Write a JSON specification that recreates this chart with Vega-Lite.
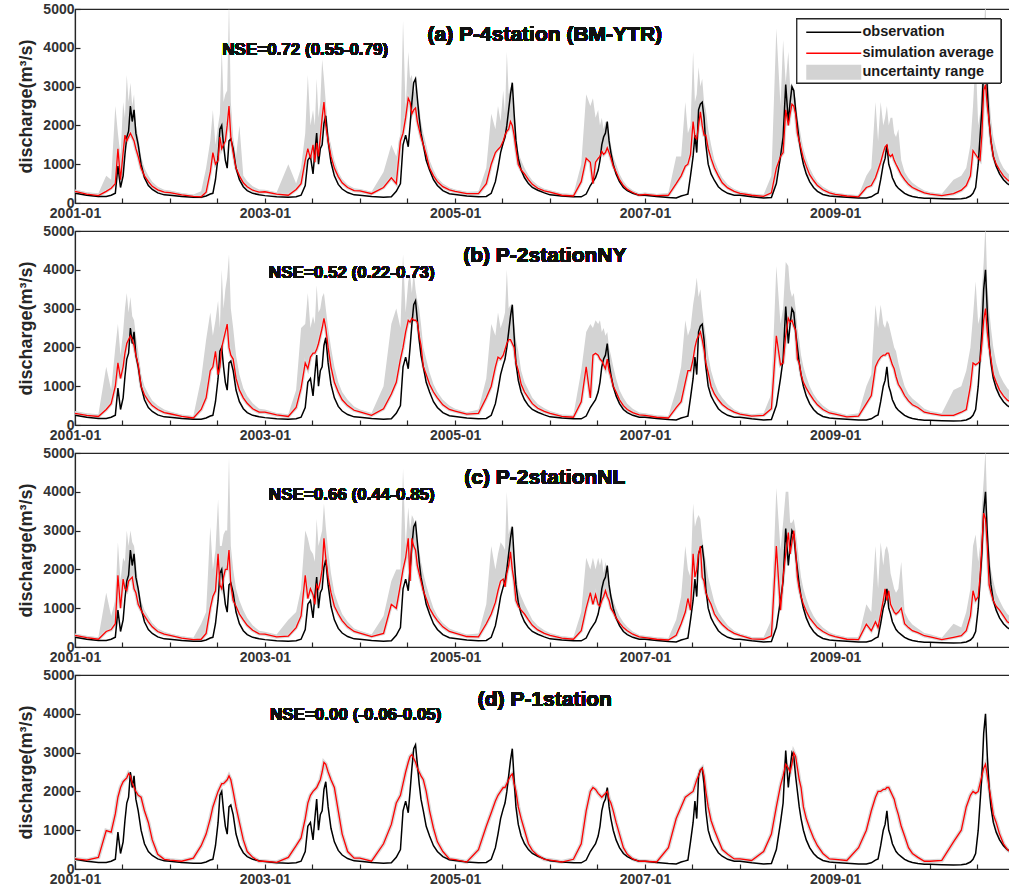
{
"$schema": "https://vega.github.io/schema/vega-lite/v6.json",
"padding": {"left": 17, "top": 1, "right": 0, "bottom": 0},
"background": "white",
"spacing": 28,
"bounds": "flush",
"data": {"values": [
{"d":"2001-01-01","o":250,"as":300,"ah":350,"bs":300,"bh":360,"cs":300,"ch":350,"ds":260},
{"d":"2001-02-15","o":200,"as":230,"ah":280,"bs":250,"bh":300,"cs":240,"ch":290,"ds":230},
{"d":"2001-04-01","o":170,"as":190,"ah":250,"bs":220,"bh":280,"cs":200,"ch":250,"ds":300},
{"d":"2001-05-01","o":170,"as":300,"ah":700,"bs":400,"bh":1500,"cs":400,"ch":1400,"ds":990},
{"d":"2001-05-20","o":200,"as":380,"ah":600,"bs":550,"bh":900,"cs":450,"ch":800,"ds":950},
{"d":"2001-06-05","o":250,"as":500,"ah":2500,"bs":1000,"bh":2000,"cs":600,"ch":1200,"ds":1420},
{"d":"2001-06-15","o":950,"as":1400,"ah":1800,"bs":1600,"bh":2600,"cs":1850,"ch":2700,"ds":1850},
{"d":"2001-06-25","o":400,"as":600,"ah":1200,"bs":1200,"bh":1800,"cs":1000,"ch":1700,"ds":2100},
{"d":"2001-07-05","o":700,"as":1300,"ah":2600,"bs":1500,"bh":2400,"cs":1750,"ch":2300,"ds":2250},
{"d":"2001-07-12","o":1250,"as":1750,"ah":2200,"bs":1850,"bh":3000,"cs":1500,"ch":2200,"ds":2300},
{"d":"2001-07-19","o":1700,"as":1600,"ah":3300,"bs":2100,"bh":3400,"cs":1450,"ch":3000,"ds":2350},
{"d":"2001-07-26","o":1850,"as":1700,"ah":2600,"bs":2200,"bh":2900,"cs":1700,"ch":2600,"ds":2460},
{"d":"2001-08-02","o":2500,"as":1800,"ah":3100,"bs":2300,"bh":3300,"cs":1750,"ch":3000,"ds":2400},
{"d":"2001-08-09","o":2100,"as":1700,"ah":2500,"bs":2200,"bh":2800,"cs":1800,"ch":2700,"ds":2200},
{"d":"2001-08-16","o":2400,"as":1600,"ah":2800,"bs":2050,"bh":2700,"cs":1500,"ch":2600,"ds":2100},
{"d":"2001-08-23","o":1800,"as":1400,"ah":2000,"bs":1800,"bh":2300,"cs":1400,"ch":2200,"ds":2000},
{"d":"2001-09-01","o":1500,"as":1200,"ah":1700,"bs":1550,"bh":1900,"cs":1100,"ch":1600,"ds":1900},
{"d":"2001-09-12","o":1000,"as":900,"ah":1200,"bs":1000,"bh":1300,"cs":950,"ch":1200,"ds":1850},
{"d":"2001-09-25","o":650,"as":700,"ah":900,"bs":780,"bh":1000,"cs":800,"ch":950,"ds":1500},
{"d":"2001-10-10","o":450,"as":550,"ah":700,"bs":620,"bh":800,"cs":650,"ch":780,"ds":1200},
{"d":"2001-10-25","o":350,"as":430,"ah":550,"bs":500,"bh":630,"cs":520,"ch":620,"ds":750},
{"d":"2001-11-15","o":260,"as":340,"ah":420,"bs":400,"bh":500,"cs":400,"ch":480,"ds":380},
{"d":"2001-12-10","o":210,"as":280,"ah":340,"bs":320,"bh":400,"cs":330,"ch":390,"ds":250},
{"d":"2002-01-01","o":200,"as":270,"ah":320,"bs":290,"bh":350,"cs":300,"ch":350,"ds":230},
{"d":"2002-02-15","o":170,"as":210,"ah":260,"bs":220,"bh":270,"cs":230,"ch":280,"ds":200},
{"d":"2002-04-01","o":150,"as":170,"ah":220,"bs":180,"bh":230,"cs":190,"ch":240,"ds":280},
{"d":"2002-05-01","o":150,"as":160,"ah":300,"bs":400,"bh":1200,"cs":200,"ch":600,"ds":600},
{"d":"2002-05-20","o":180,"as":280,"ah":900,"bs":700,"bh":2200,"cs":350,"ch":900,"ds":900},
{"d":"2002-06-05","o":230,"as":800,"ah":1600,"bs":1400,"bh":2900,"cs":1000,"ch":3100,"ds":1300},
{"d":"2002-06-15","o":250,"as":1300,"ah":2400,"bs":1500,"bh":2300,"cs":1300,"ch":2000,"ds":1600},
{"d":"2002-06-25","o":600,"as":1000,"ah":1500,"bs":1900,"bh":2700,"cs":1450,"ch":2500,"ds":1800},
{"d":"2002-07-05","o":1200,"as":1100,"ah":2000,"bs":1300,"bh":3200,"cs":2400,"ch":3800,"ds":2000},
{"d":"2002-07-12","o":1900,"as":1700,"ah":2300,"bs":1500,"bh":2500,"cs":1600,"ch":2600,"ds":2100},
{"d":"2002-07-19","o":2000,"as":1400,"ah":4000,"bs":2000,"bh":4000,"cs":1500,"ch":2600,"ds":2200},
{"d":"2002-07-26","o":1500,"as":1500,"ah":2600,"bs":2200,"bh":3000,"cs":1800,"ch":2900,"ds":2200},
{"d":"2002-08-02","o":1100,"as":1600,"ah":2800,"bs":2400,"bh":3500,"cs":2000,"ch":3000,"ds":2250},
{"d":"2002-08-09","o":900,"as":2000,"ah":2900,"bs":2600,"bh":3800,"cs":2000,"ch":3000,"ds":2300},
{"d":"2002-08-16","o":1600,"as":2500,"ah":5200,"bs":2000,"bh":4400,"cs":2500,"ch":4900,"ds":2400},
{"d":"2002-08-23","o":1650,"as":1700,"ah":2600,"bs":1800,"bh":3000,"cs":1600,"ch":2600,"ds":2300},
{"d":"2002-09-01","o":1400,"as":1300,"ah":1700,"bs":1700,"bh":2500,"cs":1200,"ch":2000,"ds":2000},
{"d":"2002-09-12","o":900,"as":900,"ah":1200,"bs":1200,"bh":1800,"cs":1050,"ch":1500,"ds":1600},
{"d":"2002-09-25","o":600,"as":700,"ah":2000,"bs":900,"bh":1300,"cs":850,"ch":1200,"ds":1200},
{"d":"2002-10-10","o":420,"as":520,"ah":700,"bs":700,"bh":950,"cs":700,"ch":950,"ds":750},
{"d":"2002-10-25","o":320,"as":420,"ah":560,"bs":560,"bh":750,"cs":560,"ch":750,"ds":450},
{"d":"2002-11-15","o":250,"as":330,"ah":430,"bs":420,"bh":560,"cs":430,"ch":560,"ds":300},
{"d":"2002-12-10","o":210,"as":280,"ah":350,"bs":330,"bh":420,"cs":340,"ch":420,"ds":200},
{"d":"2003-01-01","o":190,"as":290,"ah":340,"bs":330,"bh":400,"cs":330,"ch":390,"ds":200},
{"d":"2003-02-15","o":160,"as":230,"ah":270,"bs":260,"bh":310,"cs":260,"ch":320,"ds":170},
{"d":"2003-04-01","o":150,"as":200,"ah":1000,"bs":220,"bh":280,"cs":280,"ch":700,"ds":300},
{"d":"2003-05-01","o":160,"as":350,"ah":500,"bs":450,"bh":900,"cs":500,"ch":900,"ds":600},
{"d":"2003-05-20","o":200,"as":500,"ah":900,"bs":950,"bh":2500,"cs":800,"ch":1500,"ds":800},
{"d":"2003-06-05","o":450,"as":1100,"ah":1800,"bs":1600,"bh":2600,"cs":1850,"ch":3000,"ds":1300},
{"d":"2003-06-15","o":1100,"as":1400,"ah":3300,"bs":1450,"bh":3400,"cs":1250,"ch":2800,"ds":1700},
{"d":"2003-06-25","o":1200,"as":1150,"ah":2000,"bs":1750,"bh":2500,"cs":1500,"ch":2500,"ds":1900},
{"d":"2003-07-05","o":750,"as":1500,"ah":2400,"bs":1850,"bh":2800,"cs":1350,"ch":2400,"ds":2000},
{"d":"2003-07-12","o":1300,"as":1050,"ah":2000,"bs":1850,"bh":2600,"cs":1100,"ch":2200,"ds":2050},
{"d":"2003-07-19","o":1800,"as":1550,"ah":3200,"bs":1950,"bh":3600,"cs":1600,"ch":3300,"ds":2100},
{"d":"2003-07-26","o":1000,"as":1200,"ah":2200,"bs":2100,"bh":2900,"cs":1500,"ch":2600,"ds":2200},
{"d":"2003-08-02","o":1400,"as":1700,"ah":2600,"bs":2300,"bh":3000,"cs":1700,"ch":2800,"ds":2300},
{"d":"2003-08-09","o":1500,"as":2200,"ah":3700,"bs":2500,"bh":3300,"cs":2000,"ch":3000,"ds":2500},
{"d":"2003-08-16","o":2050,"as":2600,"ah":3200,"bs":2750,"bh":3400,"cs":2800,"ch":3700,"ds":2750},
{"d":"2003-08-23","o":2250,"as":2000,"ah":2600,"bs":2500,"bh":3000,"cs":2300,"ch":3100,"ds":2700},
{"d":"2003-09-01","o":1600,"as":1600,"ah":1800,"bs":2000,"bh":2500,"cs":1800,"ch":2500,"ds":2500},
{"d":"2003-09-12","o":1050,"as":1200,"ah":1500,"bs":1500,"bh":2000,"cs":1400,"ch":1900,"ds":2300},
{"d":"2003-09-25","o":700,"as":900,"ah":1100,"bs":1100,"bh":1500,"cs":1050,"ch":1400,"ds":2100},
{"d":"2003-10-10","o":480,"as":680,"ah":800,"bs":850,"bh":1100,"cs":850,"ch":1100,"ds":1500},
{"d":"2003-10-25","o":360,"as":520,"ah":620,"bs":650,"bh":850,"cs":680,"ch":850,"ds":900},
{"d":"2003-11-15","o":270,"as":400,"ah":470,"bs":500,"bh":650,"cs":520,"ch":650,"ds":450},
{"d":"2003-12-10","o":210,"as":320,"ah":380,"bs":380,"bh":480,"cs":400,"ch":480,"ds":280},
{"d":"2004-01-01","o":200,"as":310,"ah":360,"bs":340,"bh":400,"cs":360,"ch":420,"ds":280},
{"d":"2004-02-15","o":170,"as":240,"ah":290,"bs":250,"bh":310,"cs":270,"ch":320,"ds":200},
{"d":"2004-04-01","o":150,"as":400,"ah":800,"bs":420,"bh":1000,"cs":350,"ch":800,"ds":650},
{"d":"2004-05-01","o":160,"as":650,"ah":1500,"bs":800,"bh":2600,"cs":1100,"ch":1700,"ds":1150},
{"d":"2004-05-20","o":300,"as":500,"ah":1200,"bs":1100,"bh":3000,"cs":1000,"ch":2000,"ds":1700},
{"d":"2004-06-05","o":500,"as":1600,"ah":1800,"bs":1700,"bh":2500,"cs":1600,"ch":2000,"ds":1900},
{"d":"2004-06-15","o":1500,"as":1800,"ah":4700,"bs":2000,"bh":4400,"cs":2000,"ch":4600,"ds":2200},
{"d":"2004-06-25","o":1750,"as":2200,"ah":2400,"bs":2400,"bh":2900,"cs":2300,"ch":2600,"ds":2500},
{"d":"2004-07-05","o":1450,"as":2700,"ah":3900,"bs":2700,"bh":3700,"cs":2800,"ch":3600,"ds":2750},
{"d":"2004-07-12","o":2000,"as":2600,"ah":3200,"bs":2650,"bh":3900,"cs":1700,"ch":3000,"ds":2900},
{"d":"2004-07-19","o":2600,"as":2300,"ah":3300,"bs":2750,"bh":3400,"cs":2800,"ch":3400,"ds":2950},
{"d":"2004-07-26","o":3100,"as":2400,"ah":2800,"bs":2700,"bh":4000,"cs":2600,"ch":3300,"ds":2850},
{"d":"2004-08-02","o":3200,"as":2450,"ah":3000,"bs":2700,"bh":3500,"cs":2500,"ch":3000,"ds":2750},
{"d":"2004-08-09","o":2700,"as":2100,"ah":2600,"bs":2650,"bh":3200,"cs":2100,"ch":2700,"ds":2600},
{"d":"2004-08-16","o":2200,"as":1900,"ah":2500,"bs":2300,"bh":3000,"cs":1900,"ch":2500,"ds":2500},
{"d":"2004-08-23","o":1800,"as":1700,"ah":2100,"bs":2050,"bh":2600,"cs":1700,"ch":2200,"ds":2400},
{"d":"2004-09-01","o":1500,"as":1500,"ah":1800,"bs":1500,"bh":2000,"cs":1450,"ch":1900,"ds":2300},
{"d":"2004-09-12","o":1100,"as":1250,"ah":1500,"bs":1300,"bh":1700,"cs":1250,"ch":1600,"ds":2000},
{"d":"2004-09-25","o":850,"as":900,"ah":1100,"bs":1050,"bh":1350,"cs":1000,"ch":1300,"ds":1500},
{"d":"2004-10-10","o":600,"as":700,"ah":850,"bs":850,"bh":1050,"cs":820,"ch":1000,"ds":1050},
{"d":"2004-10-25","o":450,"as":550,"ah":650,"bs":700,"bh":850,"cs":680,"ch":800,"ds":700},
{"d":"2004-11-15","o":320,"as":420,"ah":500,"bs":520,"bh":650,"cs":520,"ch":620,"ds":450},
{"d":"2004-12-10","o":240,"as":340,"ah":400,"bs":400,"bh":500,"cs":400,"ch":480,"ds":260},
{"d":"2005-01-01","o":220,"as":300,"ah":350,"bs":360,"bh":420,"cs":360,"ch":420,"ds":240},
{"d":"2005-02-15","o":180,"as":240,"ah":290,"bs":280,"bh":330,"cs":270,"ch":320,"ds":180},
{"d":"2005-04-01","o":160,"as":240,"ah":300,"bs":300,"bh":400,"cs":260,"ch":350,"ds":500},
{"d":"2005-05-01","o":170,"as":500,"ah":900,"bs":700,"bh":1200,"cs":600,"ch":1100,"ds":1100},
{"d":"2005-05-20","o":250,"as":1000,"ah":2300,"bs":1000,"bh":2600,"cs":850,"ch":2600,"ds":1450},
{"d":"2005-06-05","o":550,"as":1300,"ah":1900,"bs":1500,"bh":2300,"cs":1150,"ch":2000,"ds":1750},
{"d":"2005-06-15","o":900,"as":1380,"ah":2500,"bs":1750,"bh":2900,"cs":1450,"ch":2400,"ds":1900},
{"d":"2005-06-25","o":1300,"as":1450,"ah":2100,"bs":1700,"bh":2500,"cs":1700,"ch":2700,"ds":2000},
{"d":"2005-07-05","o":1550,"as":1600,"ah":2900,"bs":1800,"bh":2700,"cs":1750,"ch":2600,"ds":2100},
{"d":"2005-07-12","o":1700,"as":1750,"ah":2300,"bs":1950,"bh":2900,"cs":1550,"ch":2500,"ds":2100},
{"d":"2005-07-19","o":2000,"as":1850,"ah":3900,"bs":2100,"bh":4000,"cs":1900,"ch":4000,"ds":2200},
{"d":"2005-07-26","o":2400,"as":1900,"ah":2800,"bs":2200,"bh":3000,"cs":2100,"ch":2900,"ds":2300},
{"d":"2005-08-02","o":2800,"as":2100,"ah":3000,"bs":2200,"bh":3100,"cs":2450,"ch":3100,"ds":2400},
{"d":"2005-08-09","o":3100,"as":2000,"ah":2800,"bs":2100,"bh":2900,"cs":2000,"ch":2800,"ds":2450},
{"d":"2005-08-16","o":2300,"as":1750,"ah":2400,"bs":2000,"bh":2600,"cs":1700,"ch":2400,"ds":2200},
{"d":"2005-08-23","o":1600,"as":1400,"ah":1900,"bs":1600,"bh":2200,"cs":1200,"ch":1900,"ds":2000},
{"d":"2005-09-01","o":1150,"as":1000,"ah":1300,"bs":1400,"bh":1900,"cs":1050,"ch":1500,"ds":1600},
{"d":"2005-09-12","o":850,"as":850,"ah":1100,"bs":1050,"bh":1400,"cs":950,"ch":1300,"ds":1300},
{"d":"2005-09-25","o":650,"as":750,"ah":900,"bs":850,"bh":1100,"cs":850,"ch":1100,"ds":1000},
{"d":"2005-10-10","o":500,"as":600,"ah":720,"bs":700,"bh":900,"cs":700,"ch":900,"ds":650},
{"d":"2005-10-25","o":400,"as":480,"ah":580,"bs":550,"bh":700,"cs":560,"ch":700,"ds":480},
{"d":"2005-11-15","o":330,"as":380,"ah":460,"bs":430,"bh":540,"cs":440,"ch":550,"ds":350},
{"d":"2005-12-10","o":260,"as":310,"ah":370,"bs":350,"bh":430,"cs":350,"ch":430,"ds":250},
{"d":"2006-01-01","o":210,"as":280,"ah":330,"bs":300,"bh":360,"cs":300,"ch":360,"ds":230},
{"d":"2006-02-15","o":180,"as":200,"ah":250,"bs":220,"bh":270,"cs":230,"ch":280,"ds":180},
{"d":"2006-04-01","o":160,"as":180,"ah":230,"bs":200,"bh":260,"cs":200,"ch":250,"ds":250},
{"d":"2006-05-01","o":160,"as":550,"ah":1000,"bs":600,"bh":1400,"cs":420,"ch":900,"ds":650},
{"d":"2006-05-20","o":230,"as":1150,"ah":2800,"bs":1500,"bh":2400,"cs":1000,"ch":2300,"ds":1500},
{"d":"2006-06-05","o":450,"as":1050,"ah":2500,"bs":700,"bh":2600,"cs":1400,"ch":2000,"ds":2000},
{"d":"2006-06-15","o":550,"as":500,"ah":2700,"bs":1800,"bh":2500,"cs":1100,"ch":2300,"ds":2100},
{"d":"2006-06-25","o":650,"as":1050,"ah":2200,"bs":1850,"bh":2700,"cs":1350,"ch":2000,"ds":2050},
{"d":"2006-07-05","o":850,"as":1150,"ah":2400,"bs":1800,"bh":2600,"cs":1100,"ch":2300,"ds":1950},
{"d":"2006-07-12","o":1100,"as":1200,"ah":2000,"bs":1700,"bh":2700,"cs":1050,"ch":2100,"ds":1900},
{"d":"2006-07-19","o":1500,"as":1330,"ah":2200,"bs":1650,"bh":2400,"cs":1200,"ch":2300,"ds":1850},
{"d":"2006-07-26","o":1700,"as":1250,"ah":1900,"bs":1550,"bh":2500,"cs":1300,"ch":1900,"ds":1900},
{"d":"2006-08-02","o":1800,"as":1300,"ah":2100,"bs":1450,"bh":2300,"cs":1450,"ch":2200,"ds":1950},
{"d":"2006-08-09","o":2100,"as":1420,"ah":2000,"bs":1700,"bh":2400,"cs":1300,"ch":1900,"ds":2000},
{"d":"2006-08-16","o":1600,"as":1300,"ah":1800,"bs":1400,"bh":2000,"cs":1200,"ch":1700,"ds":1800},
{"d":"2006-08-23","o":1300,"as":1160,"ah":1500,"bs":1250,"bh":1800,"cs":1000,"ch":1400,"ds":1700},
{"d":"2006-09-01","o":1000,"as":950,"ah":1200,"bs":1000,"bh":1500,"cs":900,"ch":1200,"ds":1500},
{"d":"2006-09-12","o":750,"as":800,"ah":1000,"bs":850,"bh":1200,"cs":750,"ch":1000,"ds":1200},
{"d":"2006-09-25","o":550,"as":600,"ah":750,"bs":650,"bh":900,"cs":620,"ch":800,"ds":900},
{"d":"2006-10-10","o":400,"as":450,"ah":560,"bs":500,"bh":700,"cs":500,"ch":640,"ds":550},
{"d":"2006-10-25","o":320,"as":350,"ah":430,"bs":400,"bh":550,"cs":420,"ch":520,"ds":380},
{"d":"2006-11-15","o":250,"as":270,"ah":330,"bs":320,"bh":420,"cs":330,"ch":400,"ds":260},
{"d":"2006-12-10","o":200,"as":200,"ah":250,"bs":260,"bh":320,"cs":260,"ch":310,"ds":200},
{"d":"2007-01-01","o":200,"as":220,"ah":270,"bs":250,"bh":300,"cs":240,"ch":290,"ds":200},
{"d":"2007-02-15","o":170,"as":190,"ah":230,"bs":200,"bh":250,"cs":200,"ch":250,"ds":180},
{"d":"2007-04-01","o":140,"as":200,"ah":260,"bs":180,"bh":230,"cs":180,"ch":230,"ds":550},
{"d":"2007-05-01","o":130,"as":500,"ah":1200,"bs":450,"bh":900,"cs":300,"ch":700,"ds":1300},
{"d":"2007-05-20","o":180,"as":700,"ah":1200,"bs":600,"bh":1500,"cs":600,"ch":1300,"ds":1600},
{"d":"2007-06-05","o":210,"as":950,"ah":2600,"bs":1100,"bh":2700,"cs":900,"ch":2600,"ds":1850},
{"d":"2007-06-15","o":230,"as":1000,"ah":1800,"bs":1400,"bh":2300,"cs":1250,"ch":2000,"ds":1900},
{"d":"2007-06-25","o":700,"as":1250,"ah":2000,"bs":1400,"bh":2500,"cs":950,"ch":1800,"ds":1950},
{"d":"2007-07-05","o":1200,"as":2100,"ah":3900,"bs":1700,"bh":3100,"cs":2400,"ch":3700,"ds":2000},
{"d":"2007-07-12","o":1750,"as":1700,"ah":2600,"bs":2000,"bh":3400,"cs":1800,"ch":3100,"ds":2150},
{"d":"2007-07-19","o":1300,"as":1650,"ah":2800,"bs":2200,"bh":3800,"cs":2000,"ch":3300,"ds":2300},
{"d":"2007-07-26","o":2400,"as":2000,"ah":3500,"bs":2300,"bh":3300,"cs":2400,"ch":3400,"ds":2400},
{"d":"2007-08-02","o":2550,"as":2350,"ah":3000,"bs":2400,"bh":3500,"cs":2600,"ch":3300,"ds":2550},
{"d":"2007-08-09","o":2600,"as":2000,"ah":3200,"bs":2200,"bh":3000,"cs":1800,"ch":2800,"ds":2600},
{"d":"2007-08-16","o":2200,"as":1750,"ah":2600,"bs":1950,"bh":2600,"cs":1700,"ch":2500,"ds":2400},
{"d":"2007-08-23","o":1500,"as":1750,"ah":2400,"bs":1600,"bh":2300,"cs":1400,"ch":2200,"ds":2000},
{"d":"2007-09-01","o":1000,"as":1400,"ah":1900,"bs":1350,"bh":1800,"cs":1250,"ch":1800,"ds":1600},
{"d":"2007-09-12","o":750,"as":1150,"ah":1500,"bs":1000,"bh":1400,"cs":1100,"ch":1500,"ds":1250},
{"d":"2007-09-25","o":580,"as":900,"ah":1100,"bs":800,"bh":1100,"cs":850,"ch":1150,"ds":1000},
{"d":"2007-10-10","o":420,"as":700,"ah":850,"bs":650,"bh":850,"cs":700,"ch":900,"ds":750},
{"d":"2007-10-25","o":330,"as":520,"ah":650,"bs":530,"bh":700,"cs":580,"ch":750,"ds":500},
{"d":"2007-11-15","o":250,"as":390,"ah":480,"bs":420,"bh":540,"cs":450,"ch":560,"ds":380},
{"d":"2007-12-10","o":200,"as":300,"ah":360,"bs":330,"bh":400,"cs":350,"ch":420,"ds":260},
{"d":"2008-01-01","o":200,"as":250,"ah":300,"bs":280,"bh":330,"cs":300,"ch":350,"ds":260},
{"d":"2008-02-15","o":160,"as":200,"ah":240,"bs":230,"bh":280,"cs":210,"ch":260,"ds":220},
{"d":"2008-04-01","o":130,"as":170,"ah":210,"bs":250,"bh":300,"cs":200,"ch":250,"ds":450},
{"d":"2008-05-01","o":140,"as":260,"ah":700,"bs":420,"bh":800,"cs":290,"ch":700,"ds":900},
{"d":"2008-05-20","o":500,"as":900,"ah":4500,"bs":2300,"bh":4100,"cs":2600,"ch":4100,"ds":1600},
{"d":"2008-06-05","o":1200,"as":1200,"ah":2500,"bs":1550,"bh":2600,"cs":950,"ch":2500,"ds":2150},
{"d":"2008-06-15","o":1700,"as":1300,"ah":4200,"bs":1600,"bh":3000,"cs":1800,"ch":3200,"ds":2400},
{"d":"2008-06-25","o":3050,"as":2400,"ah":3100,"bs":2300,"bh":4200,"cs":2400,"ch":4000,"ds":2700},
{"d":"2008-07-05","o":2100,"as":2000,"ah":3900,"bs":2750,"bh":4100,"cs":2950,"ch":4000,"ds":2600},
{"d":"2008-07-12","o":2600,"as":2300,"ah":3000,"bs":2650,"bh":3500,"cs":2400,"ch":3200,"ds":2500},
{"d":"2008-07-19","o":3000,"as":2550,"ah":3100,"bs":2700,"bh":3300,"cs":2700,"ch":3200,"ds":2700},
{"d":"2008-07-26","o":2900,"as":2500,"ah":2800,"bs":2550,"bh":3400,"cs":3000,"ch":3300,"ds":3000},
{"d":"2008-08-02","o":2400,"as":2300,"ah":2700,"bs":2450,"bh":3000,"cs":2500,"ch":3000,"ds":2900},
{"d":"2008-08-09","o":2000,"as":1800,"ah":2200,"bs":1700,"bh":2500,"cs":1800,"ch":2600,"ds":2600},
{"d":"2008-08-16","o":1600,"as":1600,"ah":2000,"bs":1600,"bh":2200,"cs":1500,"ch":2200,"ds":2300},
{"d":"2008-08-23","o":1300,"as":1400,"ah":1700,"bs":1300,"bh":1800,"cs":1300,"ch":1800,"ds":2100},
{"d":"2008-09-01","o":1000,"as":1150,"ah":1400,"bs":1100,"bh":1500,"cs":1100,"ch":1500,"ds":1600},
{"d":"2008-09-12","o":750,"as":950,"ah":1150,"bs":950,"bh":1250,"cs":920,"ch":1250,"ds":1300},
{"d":"2008-09-25","o":550,"as":730,"ah":900,"bs":800,"bh":1000,"cs":750,"ch":1000,"ds":1050},
{"d":"2008-10-10","o":400,"as":580,"ah":700,"bs":650,"bh":800,"cs":620,"ch":800,"ds":800},
{"d":"2008-10-25","o":300,"as":450,"ah":550,"bs":520,"bh":650,"cs":500,"ch":650,"ds":600},
{"d":"2008-11-15","o":220,"as":340,"ah":420,"bs":400,"bh":500,"cs":400,"ch":500,"ds":400},
{"d":"2008-12-10","o":180,"as":260,"ah":320,"bs":310,"bh":380,"cs":310,"ch":380,"ds":260},
{"d":"2009-01-01","o":170,"as":220,"ah":270,"bs":280,"bh":340,"cs":270,"ch":320,"ds":250},
{"d":"2009-02-15","o":150,"as":180,"ah":220,"bs":210,"bh":260,"cs":200,"ch":250,"ds":220},
{"d":"2009-04-01","o":130,"as":160,"ah":200,"bs":230,"bh":300,"cs":190,"ch":250,"ds":550},
{"d":"2009-05-01","o":130,"as":400,"ah":700,"bs":550,"bh":1000,"cs":590,"ch":1100,"ds":1000},
{"d":"2009-05-20","o":160,"as":450,"ah":900,"bs":760,"bh":1300,"cs":420,"ch":900,"ds":1500},
{"d":"2009-06-05","o":230,"as":650,"ah":2600,"bs":1500,"bh":3100,"cs":650,"ch":2600,"ds":1850},
{"d":"2009-06-15","o":260,"as":850,"ah":1600,"bs":1650,"bh":2500,"cs":500,"ch":1500,"ds":2000},
{"d":"2009-06-25","o":600,"as":1050,"ah":2600,"bs":1750,"bh":3100,"cs":850,"ch":2700,"ds":2000},
{"d":"2009-07-05","o":1000,"as":1300,"ah":2000,"bs":1800,"bh":2600,"cs":1200,"ch":2100,"ds":2050},
{"d":"2009-07-12","o":1150,"as":1450,"ah":2200,"bs":1800,"bh":2500,"cs":1500,"ch":2500,"ds":2050},
{"d":"2009-07-19","o":1500,"as":1500,"ah":2500,"bs":1850,"bh":2700,"cs":1200,"ch":2600,"ds":2100},
{"d":"2009-07-26","o":1000,"as":1250,"ah":2000,"bs":1850,"bh":2600,"cs":1450,"ch":2400,"ds":2100},
{"d":"2009-08-02","o":850,"as":1200,"ah":2200,"bs":1700,"bh":2400,"cs":1100,"ch":1900,"ds":2000},
{"d":"2009-08-09","o":650,"as":1250,"ah":2200,"bs":1550,"bh":2200,"cs":1000,"ch":1700,"ds":1900},
{"d":"2009-08-16","o":550,"as":1100,"ah":1800,"bs":1450,"bh":2000,"cs":900,"ch":1500,"ds":1800},
{"d":"2009-08-23","o":450,"as":1000,"ah":1700,"bs":1250,"bh":1900,"cs":850,"ch":1400,"ds":1600},
{"d":"2009-09-01","o":380,"as":880,"ah":1900,"bs":1050,"bh":1600,"cs":900,"ch":1500,"ds":1400},
{"d":"2009-09-12","o":320,"as":730,"ah":1100,"bs":930,"bh":1300,"cs":1000,"ch":2200,"ds":1100},
{"d":"2009-09-25","o":250,"as":600,"ah":800,"bs":760,"bh":1000,"cs":600,"ch":900,"ds":850},
{"d":"2009-10-10","o":200,"as":480,"ah":640,"bs":620,"bh":800,"cs":500,"ch":700,"ds":550},
{"d":"2009-10-25","o":170,"as":400,"ah":520,"bs":520,"bh":680,"cs":420,"ch":580,"ds":400},
{"d":"2009-11-15","o":140,"as":330,"ah":420,"bs":450,"bh":570,"cs":370,"ch":480,"ds":300},
{"d":"2009-12-10","o":120,"as":260,"ah":320,"bs":330,"bh":420,"cs":290,"ch":360,"ds":200},
{"d":"2010-01-01","o":120,"as":230,"ah":280,"bs":300,"bh":360,"cs":260,"ch":330,"ds":200},
{"d":"2010-02-15","o":110,"as":190,"ah":240,"bs":250,"bh":300,"cs":190,"ch":240,"ds":220},
{"d":"2010-04-01","o":100,"as":240,"ah":600,"bs":250,"bh":900,"cs":250,"ch":600,"ds":700},
{"d":"2010-05-01","o":110,"as":330,"ah":700,"bs":330,"bh":1000,"cs":290,"ch":500,"ds":1000},
{"d":"2010-05-20","o":130,"as":450,"ah":900,"bs":400,"bh":1400,"cs":420,"ch":900,"ds":1600},
{"d":"2010-06-05","o":180,"as":700,"ah":1500,"bs":1000,"bh":2000,"cs":800,"ch":1500,"ds":1900},
{"d":"2010-06-15","o":250,"as":1350,"ah":2500,"bs":1600,"bh":2800,"cs":1450,"ch":2600,"ds":2000},
{"d":"2010-06-25","o":400,"as":1250,"ah":3800,"bs":1550,"bh":3700,"cs":1200,"ch":2900,"ds":1950},
{"d":"2010-07-05","o":1000,"as":1150,"ah":2000,"bs":1600,"bh":2600,"cs":1300,"ch":2200,"ds":2000},
{"d":"2010-07-12","o":1700,"as":1100,"ah":2300,"bs":1650,"bh":2800,"cs":1800,"ch":2600,"ds":2200},
{"d":"2010-07-19","o":2400,"as":1760,"ah":3200,"bs":2100,"bh":3500,"cs":2600,"ch":3600,"ds":2400},
{"d":"2010-07-26","o":3500,"as":2900,"ah":4300,"bs":2700,"bh":4200,"cs":3450,"ch":4300,"ds":2600},
{"d":"2010-08-02","o":4000,"as":3050,"ah":5300,"bs":3000,"bh":5200,"cs":3300,"ch":5100,"ds":2700},
{"d":"2010-08-09","o":2900,"as":2500,"ah":3500,"bs":2400,"bh":3600,"cs":2600,"ch":3500,"ds":2400},
{"d":"2010-08-16","o":2100,"as":2100,"ah":2800,"bs":2000,"bh":3000,"cs":1600,"ch":2500,"ds":2100},
{"d":"2010-08-23","o":1600,"as":1600,"ah":2200,"bs":1700,"bh":2500,"cs":1400,"ch":2000,"ds":1800},
{"d":"2010-09-01","o":1200,"as":1200,"ah":1700,"bs":1300,"bh":2000,"cs":1190,"ch":1700,"ds":1400},
{"d":"2010-09-12","o":950,"as":1000,"ah":1400,"bs":1100,"bh":1600,"cs":1050,"ch":1400,"ds":1200},
{"d":"2010-09-25","o":750,"as":850,"ah":1100,"bs":900,"bh":1300,"cs":950,"ch":1200,"ds":900},
{"d":"2010-10-10","o":600,"as":700,"ah":900,"bs":750,"bh":1100,"cs":800,"ch":1000,"ds":650},
{"d":"2010-10-25","o":500,"as":600,"ah":780,"bs":640,"bh":950,"cs":650,"ch":850,"ds":500},
{"d":"2010-11-15","o":420,"as":500,"ah":650,"bs":560,"bh":800,"cs":560,"ch":720,"ds":400}
]},
"config": {
  "font": "Liberation Sans",
  "view": {"stroke": "#262626", "strokeWidth": 1.2},
  "axis": {"grid": false, "labelFont": "Liberation Sans", "labelFontSize": 14, "labelFontWeight": "bold", "labelColor": "#333333", "titleFont": "Liberation Sans", "titleFontSize": 18, "titleFontWeight": "bold", "titleColor": "#262626", "domainColor": "#262626", "tickColor": "#262626", "tickSize": -5, "domainWidth": 1.2, "tickWidth": 1.2},
  "axisY": {"tickCount": 5, "labelPadding": 6, "titlePadding": 7, "labelOverlap": false},
  "axisX": {"labelPadding": 8, "labelOverlap": false, "labelFlush": false}
},
"vconcat": [
{
  "width": 936, "height": 194,
  "encoding": {"x": {"field": "d", "type": "temporal", "title": null, "scale": {"type": "utc", "domain": [{"year": 2001, "month": 1, "date": 1, "utc": true}, {"year": 2010, "month": 11, "date": 8, "utc": true}]}, "axis": {"tickCount": {"interval": "month", "step": 6}, "labelExpr": "utcmonth(datum.value) == 0 && utcyear(datum.value) % 2 == 1 ? utcFormat(datum.value, '%Y-%m') : ''"}}},
  "layer": [
    {"mark": {"type": "area", "clip": true, "opacity": 1}, "encoding": {"y": {"field": "ah", "type": "quantitative", "scale": {"domain": [0, 5000]}, "title": "discharge(m³/s)", "axis": {"format": "d"}}, "y2": {"field": "as"}, "fill": {"datum": "uncertainty range", "scale": {"domain": ["uncertainty range"], "range": ["#d3d3d3"]}, "legend": {"orient": "none", "legendX": 729, "legendY": 56, "title": null, "padding": 0, "labelFont": "Liberation Sans", "labelFontSize": 14.5, "labelFontWeight": "bold", "labelColor": "#1a1a1a", "labelOffset": 44, "symbolType": "M-1,-1.5L10,-1.5L10,1.5L-1,1.5Z", "symbolSize": 100, "symbolStrokeWidth": 0, "symbolOpacity": 1, "zindex": 2}}}},
    {"mark": {"type": "line", "clip": true, "color": "#d9d9d9", "strokeWidth": 3.5}, "encoding": {"y": {"field": "as", "type": "quantitative", "title": "discharge(m³/s)"}}},
    {"mark": {"type": "line", "clip": true, "strokeWidth": 1.5}, "encoding": {"y": {"field": "o", "type": "quantitative", "title": "discharge(m³/s)"}, "stroke": {"datum": "observation", "scale": {"domain": ["observation", "simulation average"], "range": ["#000000", "#ff0000"]}, "legend": {"orient": "none", "legendX": 729, "legendY": 16, "title": null, "padding": 0, "labelFont": "Liberation Sans", "labelFontSize": 14.5, "labelFontWeight": "bold", "labelColor": "#1a1a1a", "labelOffset": 44, "symbolType": "M-1,0L10,0", "symbolSize": 100, "symbolStrokeWidth": 1.5, "symbolOpacity": 1, "rowPadding": 6, "zindex": 2}}}},
    {"mark": {"type": "line", "clip": true, "strokeWidth": 1.3}, "encoding": {"y": {"field": "as", "type": "quantitative", "title": "discharge(m³/s)"}, "stroke": {"datum": "simulation average"}}},
    {"mark": {"type": "rect", "fill": "white", "stroke": "#262626", "strokeWidth": 1}, "encoding": {"x": {"datum": {"year": 2008, "month": 8, "date": 7, "utc": true}, "type": "temporal"}, "x2": {"datum": {"year": 2010, "month": 9, "date": 30, "utc": true}}, "y": {"datum": 4742, "type": "quantitative"}, "y2": {"datum": 3093}}},
    {"mark": {"type": "text", "fontSize": 21, "fontWeight": "bold", "font": "Liberation Sans", "color": "#111111", "align": "center", "baseline": "middle"}, "encoding": {"x": {"datum": {"year": 2005, "month": 12, "date": 12, "utc": true}, "type": "temporal"}, "y": {"datum": 4330, "type": "quantitative"}, "text": {"value": "(a) P-4station (BM-YTR)"}}},
    {"mark": {"type": "text", "fontSize": 17, "fontWeight": "bold", "font": "Liberation Sans", "color": "#111111", "align": "center", "baseline": "middle"}, "encoding": {"x": {"datum": {"year": 2003, "month": 6, "date": 5, "utc": true}, "type": "temporal"}, "y": {"datum": 3943, "type": "quantitative"}, "text": {"value": "NSE=0.72 (0.55-0.79)"}}}
  ]
},
{
  "width": 936, "height": 194,
  "encoding": {"x": {"field": "d", "type": "temporal", "title": null, "scale": {"type": "utc", "domain": [{"year": 2001, "month": 1, "date": 1, "utc": true}, {"year": 2010, "month": 11, "date": 8, "utc": true}]}, "axis": {"tickCount": {"interval": "month", "step": 6}, "labelExpr": "utcmonth(datum.value) == 0 && utcyear(datum.value) % 2 == 1 ? utcFormat(datum.value, '%Y-%m') : ''"}}},
  "layer": [
    {"mark": {"type": "area", "clip": true, "color": "#d3d3d3", "opacity": 1}, "encoding": {"y": {"field": "bh", "type": "quantitative", "scale": {"domain": [0, 5000]}, "title": "discharge(m³/s)", "axis": {"format": "d"}}, "y2": {"field": "bs"}}},
    {"mark": {"type": "line", "clip": true, "color": "#d9d9d9", "strokeWidth": 3.5}, "encoding": {"y": {"field": "bs", "type": "quantitative", "title": "discharge(m³/s)"}}},
    {"mark": {"type": "line", "clip": true, "color": "#000000", "strokeWidth": 1.5}, "encoding": {"y": {"field": "o", "type": "quantitative", "title": "discharge(m³/s)"}}},
    {"mark": {"type": "line", "clip": true, "color": "#ff0000", "strokeWidth": 1.3}, "encoding": {"y": {"field": "bs", "type": "quantitative", "title": "discharge(m³/s)"}}},
    {"mark": {"type": "text", "fontSize": 21, "fontWeight": "bold", "font": "Liberation Sans", "color": "#111111", "align": "center", "baseline": "middle"}, "encoding": {"x": {"datum": {"year": 2005, "month": 12, "date": 12, "utc": true}, "type": "temporal"}, "y": {"datum": 4356, "type": "quantitative"}, "text": {"value": "(b) P-2stationNY"}}},
    {"mark": {"type": "text", "fontSize": 17, "fontWeight": "bold", "font": "Liberation Sans", "color": "#111111", "align": "center", "baseline": "middle"}, "encoding": {"x": {"datum": {"year": 2003, "month": 12, "date": 1, "utc": true}, "type": "temporal"}, "y": {"datum": 3918, "type": "quantitative"}, "text": {"value": "NSE=0.52 (0.22-0.73)"}}}
  ]
},
{
  "width": 936, "height": 194,
  "encoding": {"x": {"field": "d", "type": "temporal", "title": null, "scale": {"type": "utc", "domain": [{"year": 2001, "month": 1, "date": 1, "utc": true}, {"year": 2010, "month": 11, "date": 8, "utc": true}]}, "axis": {"tickCount": {"interval": "month", "step": 6}, "labelExpr": "utcmonth(datum.value) == 0 && utcyear(datum.value) % 2 == 1 ? utcFormat(datum.value, '%Y-%m') : ''"}}},
  "layer": [
    {"mark": {"type": "area", "clip": true, "color": "#d3d3d3", "opacity": 1}, "encoding": {"y": {"field": "ch", "type": "quantitative", "scale": {"domain": [0, 5000]}, "title": "discharge(m³/s)", "axis": {"format": "d"}}, "y2": {"field": "cs"}}},
    {"mark": {"type": "line", "clip": true, "color": "#d9d9d9", "strokeWidth": 3.5}, "encoding": {"y": {"field": "cs", "type": "quantitative", "title": "discharge(m³/s)"}}},
    {"mark": {"type": "line", "clip": true, "color": "#000000", "strokeWidth": 1.5}, "encoding": {"y": {"field": "o", "type": "quantitative", "title": "discharge(m³/s)"}}},
    {"mark": {"type": "line", "clip": true, "color": "#ff0000", "strokeWidth": 1.3}, "encoding": {"y": {"field": "cs", "type": "quantitative", "title": "discharge(m³/s)"}}},
    {"mark": {"type": "text", "fontSize": 21, "fontWeight": "bold", "font": "Liberation Sans", "color": "#111111", "align": "center", "baseline": "middle"}, "encoding": {"x": {"datum": {"year": 2005, "month": 12, "date": 12, "utc": true}, "type": "temporal"}, "y": {"datum": 4356, "type": "quantitative"}, "text": {"value": "(c) P-2stationNL"}}},
    {"mark": {"type": "text", "fontSize": 17, "fontWeight": "bold", "font": "Liberation Sans", "color": "#111111", "align": "center", "baseline": "middle"}, "encoding": {"x": {"datum": {"year": 2003, "month": 12, "date": 1, "utc": true}, "type": "temporal"}, "y": {"datum": 3918, "type": "quantitative"}, "text": {"value": "NSE=0.66 (0.44-0.85)"}}}
  ]
},
{
  "width": 936, "height": 194,
  "encoding": {"x": {"field": "d", "type": "temporal", "title": null, "scale": {"type": "utc", "domain": [{"year": 2001, "month": 1, "date": 1, "utc": true}, {"year": 2010, "month": 11, "date": 8, "utc": true}]}, "axis": {"tickCount": {"interval": "month", "step": 6}, "labelExpr": "utcmonth(datum.value) == 0 && utcyear(datum.value) % 2 == 1 ? utcFormat(datum.value, '%Y-%m') : ''"}}},
  "layer": [
    {"mark": {"type": "line", "clip": true, "color": "#d9d9d9", "strokeWidth": 4}, "encoding": {"y": {"field": "ds", "type": "quantitative", "scale": {"domain": [0, 5000]}, "title": "discharge(m³/s)", "axis": {"format": "d"}}}},
    {"mark": {"type": "line", "clip": true, "color": "#000000", "strokeWidth": 1.5}, "encoding": {"y": {"field": "o", "type": "quantitative", "title": "discharge(m³/s)"}}},
    {"mark": {"type": "line", "clip": true, "color": "#ff0000", "strokeWidth": 1.3}, "encoding": {"y": {"field": "ds", "type": "quantitative", "title": "discharge(m³/s)"}}},
    {"mark": {"type": "text", "fontSize": 21, "fontWeight": "bold", "font": "Liberation Sans", "color": "#111111", "align": "center", "baseline": "middle"}, "encoding": {"x": {"datum": {"year": 2005, "month": 12, "date": 12, "utc": true}, "type": "temporal"}, "y": {"datum": 4356, "type": "quantitative"}, "text": {"value": "(d) P-1station"}}},
    {"mark": {"type": "text", "fontSize": 17, "fontWeight": "bold", "font": "Liberation Sans", "color": "#111111", "align": "center", "baseline": "middle"}, "encoding": {"x": {"datum": {"year": 2003, "month": 12, "date": 16, "utc": true}, "type": "temporal"}, "y": {"datum": 3969, "type": "quantitative"}, "text": {"value": "NSE=0.00 (-0.06-0.05)"}}}
  ]
}
]
}
